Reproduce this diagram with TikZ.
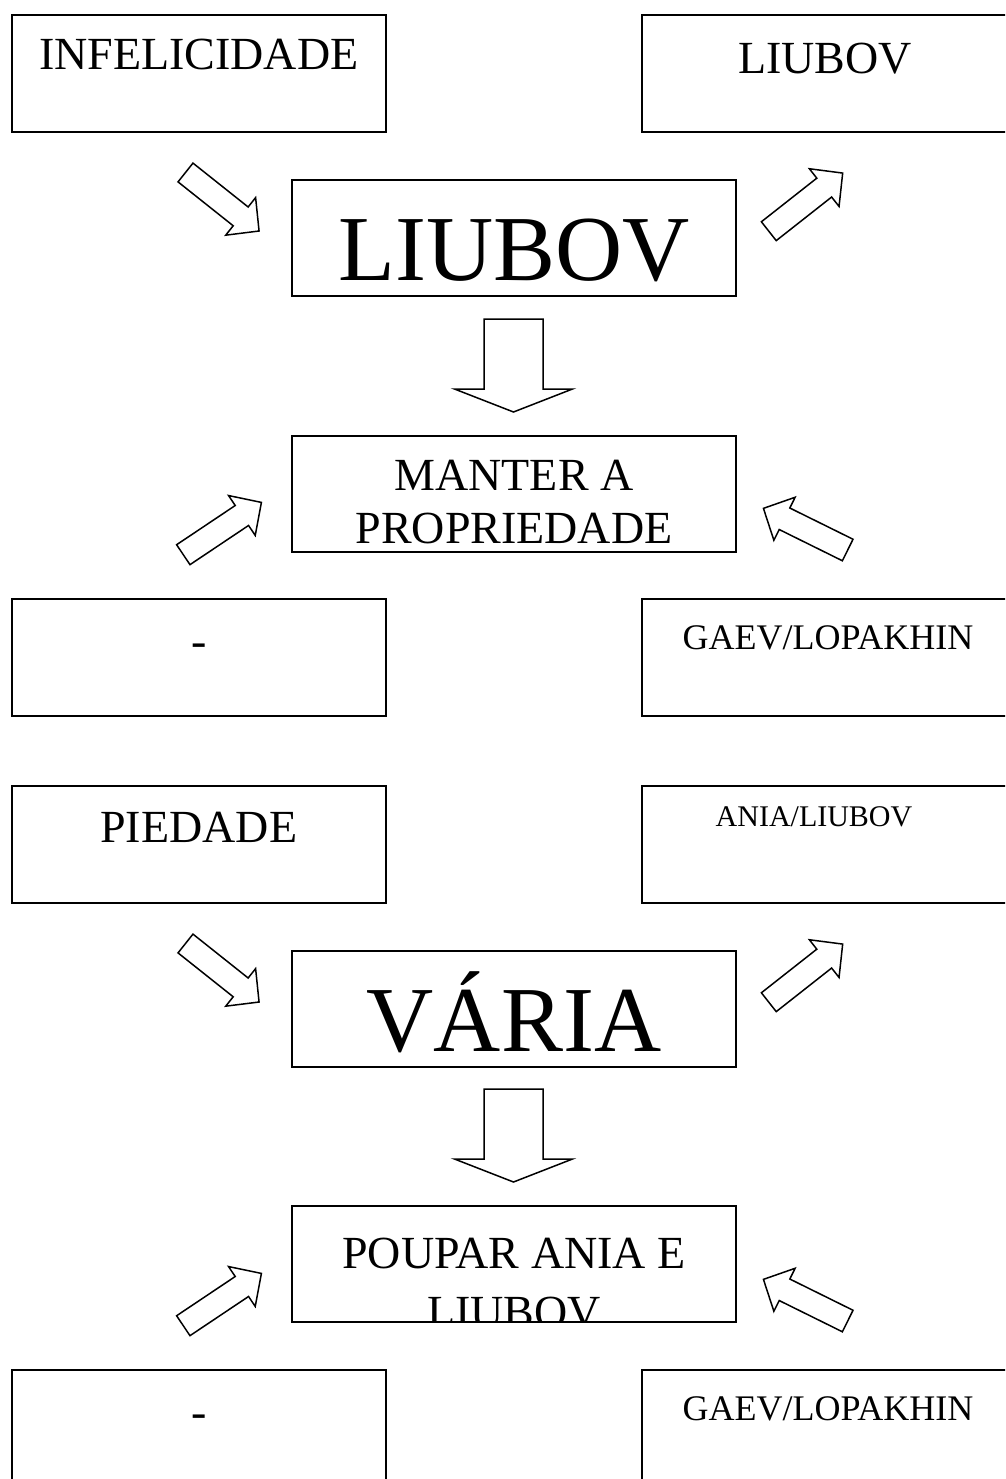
\documentclass[tikz,border=0pt]{standalone}
\usepackage{fontspec}
\setmainfont{Liberation Serif}
\begin{document}
\begin{tikzpicture}[x=1pt,y=-1pt,
  box/.style={draw, line width=2pt, rectangle, inner sep=0pt},
  lbox/.style={box, minimum width=373.5pt, minimum height=117pt},
  cbox/.style={box, minimum width=444pt, minimum height=116pt},
  txt/.style={anchor=base, inner sep=0pt, font=\fontsize{46}{46}\selectfont},
  bigtxt/.style={anchor=base, inner sep=0pt, font=\fontsize{93}{93}\selectfont},
  smtxt/.style={anchor=base, inner sep=0pt, font=\fontsize{36}{36}\selectfont},
  xstxt/.style={anchor=base, inner sep=0pt, font=\fontsize{30}{30}\selectfont},
  diagarrow/.pic={\draw[line width=1.5pt, line join=miter, fill=white]
     (0,12) -- (70.5,12) -- (70.5,24) -- (94,0) -- (70.5,-24) -- (70.5,-12) -- (0,-12) -- cycle;
     \coordinate (-tip) at (94,0);},
  downarrow/.pic={\draw[line width=1.5pt, line join=miter, fill=white]
     (0,29.5) -- (70,29.5) -- (70,59) -- (93,0) -- (70,-59) -- (70,-29.5) -- (0,-29.5) -- cycle;
     \coordinate (-tip) at (93,0);}
]
\useasboundingbox (0,0) rectangle (1005,1479);
\clip (0,0) rectangle (1005,1479);
\fill[white] (0,0) rectangle (1005,1479);

% ---------- upper half ----------
\node[lbox] (infel) at (198.75,73.5) {};
\node[txt] (infelT) at (198.75,70) {INFELICIDADE};
\node[lbox] (liubR) at (828.75,73.5) {};
\node[txt] (liubRT) at (825,74) {LIUBOV};

\node[cbox] (liubC) at (514,238) {};
\node[bigtxt] (liubCT) at (514,280) {LIUBOV};

\pic (a1) [rotate=-38.5] at (185.5,172.5) {diagarrow};
\pic (a2) [rotate=38.2] at (768.8,231.2) {diagarrow};

\pic (d1) [rotate=-90] at (513.5,319) {downarrow};

\node[cbox] (manter) at (514,494) {};
\node[txt] (manterT1) at (514,490) {MANTER A};
\node[txt] (manterT2) at (514,543) {PROPRIEDADE};

\pic (a3) [rotate=33.8] at (183.3,554.7) {diagarrow};
\pic (a4) [rotate=153.7] at (847.7,550) {diagarrow};

\node[lbox] (dash1) at (198.75,657.5) {};
\node[txt] (dash1T) at (199,656) {-};
\node[lbox] (gaev1) at (828.75,657.5) {};
\node[smtxt] (gaev1T) at (828,649) {GAEV/LOPAKHIN};

% ---------- lower half ----------
\node[lbox] (pied) at (198.75,844.5) {};
\node[txt] (piedT) at (198.75,842) {PIEDADE};
\node[lbox] (ania) at (828.75,844.5) {};
\node[xstxt] (aniaT) at (814,826) {ANIA/LIUBOV};

\node[cbox] (varia) at (514,1009) {};
\node[bigtxt] (variaT) at (514,1051) {VÁRIA};

\pic (b1) [rotate=-38.5] at (185.5,943.5) {diagarrow};
\pic (b2) [rotate=38.2] at (768.8,1002.2) {diagarrow};

\pic (d2) [rotate=-90] at (513.5,1089) {downarrow};

\begin{scope}
  \clip (292,1206) rectangle (736,1322);
  \node[txt] (poupT1) at (514,1268) {POUPAR ANIA E};
  \node[txt] (poupT2) at (514,1327) {LIUBOV};
\end{scope}
\node[cbox] (poupar) at (514,1264) {};

\pic (b3) [rotate=33.8] at (183.3,1325.7) {diagarrow};
\pic (b4) [rotate=153.7] at (847.7,1321) {diagarrow};

\node[lbox] (dash2) at (198.75,1428.5) {};
\node[txt] (dash2T) at (199,1427) {-};
\node[lbox] (gaev2) at (828.75,1428.5) {};
\node[smtxt] (gaev2T) at (828,1420) {GAEV/LOPAKHIN};
\end{tikzpicture}
\end{document}
